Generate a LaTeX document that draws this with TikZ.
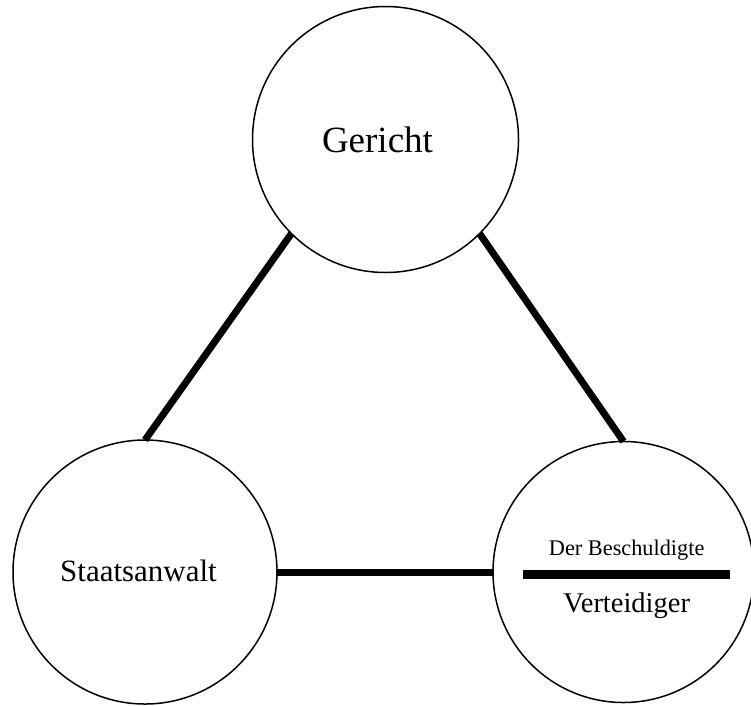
\documentclass[tikz,border=0pt]{standalone}
\usepackage{fontspec}
\setmainfont{Liberation Serif}
\begin{document}
\begin{tikzpicture}[x=1pt,y=-1pt,
  party/.style={circle,draw=black,line width=1.5pt,inner sep=0pt,outer sep=0pt,fill=white},
  lbl/.style={anchor=base,inner sep=0pt,outer sep=0pt},
  link/.style={line width=7pt,line cap=butt}]
\useasboundingbox[fill=white] (0,0) rectangle (751,705);
\node[party,minimum size=266pt] (ger) at (385.5,139.5) {};
\node[party,minimum size=264pt] (sta) at (145,572) {};
\node[party,minimum size=261pt] (ver) at (623.5,572) {};
\draw[link] (ger.225) -- (sta.north);
\draw[link] (ger.-45) -- (ver.north);
\draw[link] (sta.east) -- (ver.west);
\node[lbl,font=\fontsize{37}{40}\selectfont] (tger) at (377.5,152.7) {Gericht};
\node[lbl,font=\fontsize{31}{34}\selectfont] (tsta) at (138.5,581.7) {Staatsanwalt};
\node[lbl,font=\fontsize{22.3}{25}\selectfont] (tbes) at (626.7,555) {Der Beschuldigte};
\node[lbl,font=\fontsize{28.5}{31}\selectfont] (tver) at (626.7,612.7) {Verteidiger};
\node[rectangle,fill=black,inner sep=0pt,minimum width=207pt,minimum height=9pt] (bar) at (626.4,574.5) {};
\end{tikzpicture}
\end{document}
